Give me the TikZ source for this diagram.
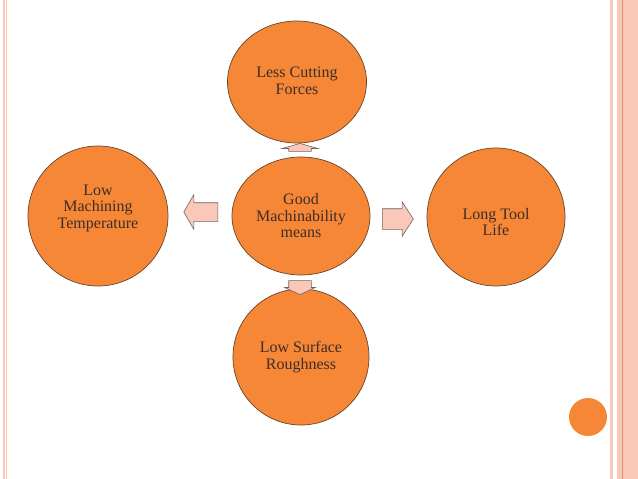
\documentclass[tikz,border=0pt]{standalone}
\usepackage{fontspec}
\setmainfont{Liberation Serif}
\usetikzlibrary{calc,shapes.geometric,shapes.arrows}
\definecolor{orangefill}{RGB}{246,135,55}
\definecolor{rimline}{RGB}{105,68,40}
\definecolor{arrowfill}{RGB}{249,200,184}
\definecolor{arrowline}{RGB}{110,100,95}
\definecolor{framepink}{RGB}{250,200,184}
\definecolor{frameline}{RGB}{232,146,98}
\definecolor{wordcol}{RGB}{60,45,38}
\tikzstyle{bubble}=[ellipse, draw=rimline, line width=0.7pt, fill=orangefill, minimum width=138pt, minimum height=138pt, inner sep=0pt]
\tikzstyle{words}=[align=center, text=wordcol, font=\fontsize{16}{16.5}\selectfont]
\tikzstyle{blockarrow}=[single arrow, draw=arrowline, line width=0.6pt, fill=arrowfill, inner xsep=0pt]

\begin{document}
\begin{tikzpicture}[x=1pt, y=-1pt]
  \useasboundingbox (0,0) rectangle (638,479);
  % slide frame
  \fill[framepink] (3,0) rectangle (4.6,479);
  \fill[framepink] (5.8,0) rectangle (7.4,479);
  \fill[framepink] (610,0) rectangle (613,479);
  \fill[framepink] (616.5,0) rectangle (638,479);
  \fill[frameline] (622,0) rectangle (623.3,479);
  \fill[orangefill] (588,417) circle (19pt);
  % circles
  \node[bubble, minimum height=118pt] (0) at (301,216) {};
  \node[bubble, minimum width=139pt, minimum height=122pt] (1) at (297,82) {};
  \node[bubble] (2) at (496,217) {};
  \node[bubble, minimum width=136pt, minimum height=136pt] (3) at (301,357) {};
  \node[bubble, minimum width=140pt, minimum height=140pt] (4) at (98,216) {};
  \node[words] (0t) at (0) {Good\\Machinability\\means};
  \node[words] (1t) at ($(1)+(0,-1)$) {Less Cutting\\Forces};
  \node[words] (2t) at ($(2)+(0,5)$) {Long Tool\\Life};
  \node[words] (3t) at (3) {Low Surface\\Roughness};
  \node[words] (4t) at ($(4)+(0,-8)$) {Low\\Machining\\Temperature};
  % arrows
  \node[blockarrow, rotate=90, minimum height=8pt, inner ysep=11pt,
        single arrow head extend=6.5pt, single arrow tip angle=148]
        (01) at ($(0)!0.5!(1)+(1,0)$) {};
  \node[blockarrow, minimum height=31pt, inner ysep=10pt,
        single arrow head extend=7pt, single arrow tip angle=114]
        (02) at ($(0)!0.5!(2)+(-4,2.5)$) {};
  \node[blockarrow, rotate=-90, minimum height=14pt, inner ysep=11pt,
        single arrow head extend=4pt, single arrow tip angle=130]
        (03) at ($(0)!0.5!(3)+(-1,-1.5)$) {};
  \node[blockarrow, rotate=180, minimum height=34pt, inner ysep=9pt,
        single arrow head extend=8pt, single arrow tip angle=120]
        (04) at ($(0)!0.5!(4)+(4,-4)$) {};
\end{tikzpicture}
\end{document}
